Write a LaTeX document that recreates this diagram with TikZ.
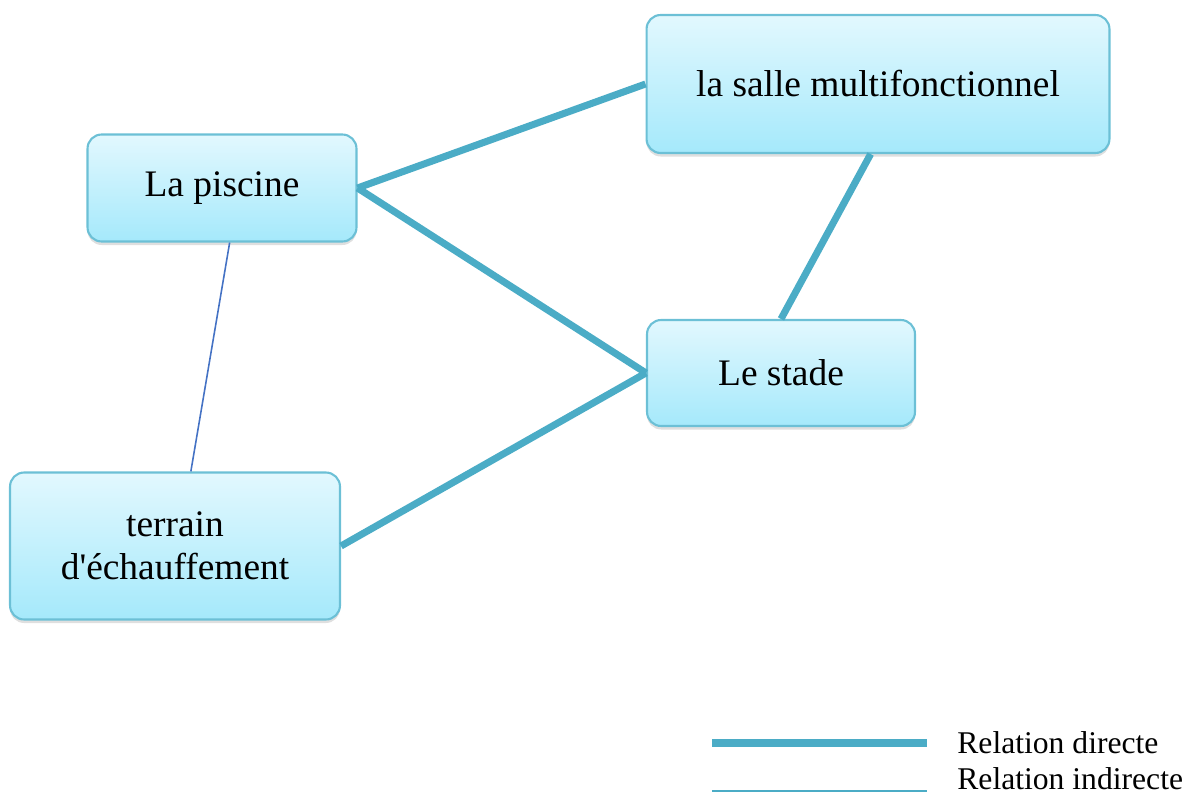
\documentclass[tikz,border=0pt]{standalone}
\usepackage{fontspec}
\setmainfont{Liberation Serif}
\usepackage{tikz}
\usetikzlibrary{positioning,shadows}
\definecolor{linkblue}{HTML}{4BACC6}
\definecolor{thinblue}{HTML}{4472C4}
\definecolor{boxedge}{HTML}{6CC0D6}
\definecolor{boxtop}{HTML}{E2F8FE}
\definecolor{boxbot}{HTML}{A5E9FB}
\tikzset{
	box/.style={draw=boxedge, line width=1.2pt, rounded corners=8pt, top color=boxtop, bottom color=boxbot, align=center, font=\fontsize{21.3}{24.5}\selectfont, drop shadow={opacity=0.25, shadow xshift=0pt, shadow yshift=-2pt}},
	direct/.style={draw=linkblue, line width=4pt},
	indirect/.style={draw=thinblue, line width=0.9pt},
	legendtext/.style={anchor=west, inner sep=0pt, font=\fontsize{18}{21}\selectfont}
}
\begin{document}
\begin{tikzpicture}[x=0.02cm, y=-0.02cm]
		\useasboundingbox (0,0) rectangle (1192,794);
		\node[box, minimum width=5.38cm, minimum height=2.14cm] (piscine) at (222,188) {La piscine};
		\node[box, minimum width=9.26cm, minimum height=2.76cm] (salle) at (878,84) {la salle multifonctionnel};
		\node[box, minimum width=5.36cm, minimum height=2.12cm] (stade) at (781,373) {Le stade};
		\node[box, minimum width=6.6cm, minimum height=2.94cm] (terrain) at (175,546) {terrain\\d\textquotesingle échauffement};
		
		\draw[direct] (piscine.east) -- (salle.west);
		\draw[direct] (piscine.east) -- (stade.west);
		\draw[direct] (terrain.east) -- (stade.west);
		\draw[direct] (salle.-96) -- (stade.north);
		\draw[indirect] (piscine.-82) -- (terrain.78);
		
		% legende
		\coordinate (d1) at (712,743);
		\coordinate[right=4.3cm of d1] (d2);
		\coordinate (i1) at (712,791);
		\coordinate[right=4.3cm of i1] (i2);
		\draw[direct, drop shadow={opacity=0.3, shadow xshift=0pt, shadow yshift=-2pt}] (d1) -- (d2);
		\draw[draw=linkblue, line width=1.6pt] (i1) -- (i2);
		\node[legendtext] (ldirect) at (957,743) {Relation directe};
		\node[legendtext] (lindirect) at (957,779) {Relation indirecte};
	\end{tikzpicture}
\end{document}
